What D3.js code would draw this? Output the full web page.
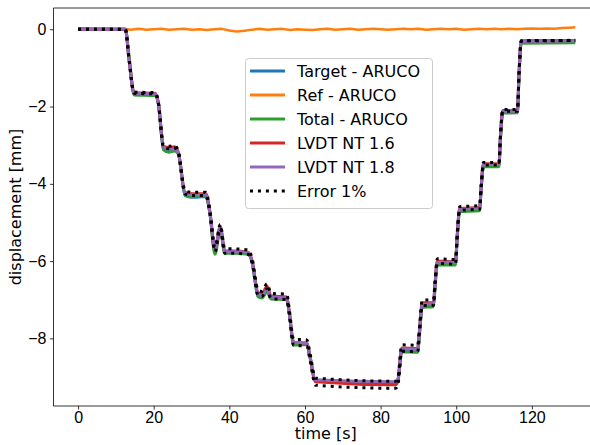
<!DOCTYPE html>
<html>
<head>
<meta charset="utf-8">
<script src="https://cdn.jsdelivr.net/npm/d3@7"></script>
<style>
  body { margin: 0; background: #fff; }
  svg { font-family: 'DejaVu Sans', sans-serif; }
  .tick text { font-size: 16px; fill: #000; }
</style>
</head>
<body>
<svg id="chart" width="590" height="445"></svg>
<script>
// shared time base for the stepped signals [s]
const time = [0, 12.5, 13.5, 14.8, 20.5, 21.2, 22.6, 24, 25.5, 26.5,
  28.3, 30, 33.8, 34.8, 36.2, 37.6, 38.8, 41, 45, 46,
  47.6, 48.6, 50, 51, 55.2, 55.8, 57, 60.5, 61.2, 62.8,
  84, 84.6, 85.6, 89.8, 90.3, 91, 94, 94.4, 95, 99.8,
  100.3, 100.9, 106.2, 106.6, 107.2, 111.3, 111.7, 112.3, 116.2, 116.6,
  117.2, 131.5]

const target = [0, 0, -0.8, -1.66, -1.7, -1.92, -3.1, -3.15, -3.12, -3.22,
  -4.3, -4.35, -4.33, -4.72, -5.72, -5.15, -5.78, -5.77, -5.8, -6.02,
  -6.9, -6.95, -6.75, -6.96, -6.97, -7.32, -8.12, -8.14, -8.42, -9.1,
  -9.16, -9.08, -8.3, -8.32, -7.83, -7.14, -7.12, -6.62, -6.05, -6.05,
  -5.32, -4.68, -4.65, -4.12, -3.52, -3.52, -2.82, -2.14, -2.14, -1.22,
  -0.33, -0.31]

const total = [0.01, -0.01, -0.7, -1.7, -1.72, -1.9, -3.12, -3.18, -3.15, -3.22,
  -4.3, -4.33, -4.32, -4.72, -5.82, -5.2, -5.8, -5.8, -5.82, -6.02,
  -6.92, -6.95, -6.8, -6.98, -7.0, -7.3, -8.17, -8.16, -8.42, -9.1,
  -9.14, -9.08, -8.35, -8.36, -7.9, -7.2, -7.18, -6.7, -6.1, -6.1,
  -5.35, -4.72, -4.7, -4.15, -3.56, -3.56, -2.86, -2.17, -2.16, -1.25,
  -0.36, -0.35]

const lvdt16 = [0, 0, -0.8, -1.64, -1.66, -1.88, -3.03, -3.06, -3.04, -3.18,
  -4.22, -4.26, -4.26, -4.68, -5.7, -5.1, -5.74, -5.74, -5.77, -5.98,
  -6.82, -6.85, -6.65, -6.9, -6.93, -7.28, -8.1, -8.12, -8.4, -9.12,
  -9.2, -9.1, -8.25, -8.26, -7.78, -7.08, -7.07, -6.58, -6.0, -6.02,
  -5.28, -4.64, -4.61, -4.08, -3.48, -3.48, -2.78, -2.1, -2.1, -1.18,
  -0.3, -0.29]

const lvdt18 = [0, 0, -0.8, -1.65, -1.68, -1.9, -3.05, -3.1, -3.1, -3.2,
  -4.25, -4.28, -4.28, -4.7, -5.7, -5.12, -5.75, -5.75, -5.78, -6.0,
  -6.85, -6.9, -6.72, -6.93, -6.95, -7.3, -8.1, -8.12, -8.4, -9.07,
  -9.12, -9.05, -8.27, -8.28, -7.8, -7.12, -7.1, -6.6, -6.03, -6.03,
  -5.3, -4.66, -4.63, -4.1, -3.5, -3.5, -2.8, -2.12, -2.12, -1.2,
  -0.32, -0.3]

// reference marker, sampled on its own time base
const refTime = [0, 2, 4, 6, 8, 10, 12, 14, 16, 18, 20, 22, 24, 26, 28, 30, 32, 34, 36, 38,
  40, 42, 44, 46, 48, 50, 52, 54, 56, 58, 60, 62, 64, 66, 68, 70, 72, 74, 76, 78,
  80, 82, 84, 86, 88, 90, 92, 94, 96, 98, 100, 102, 104, 106, 108, 110, 112, 114, 116, 118,
  120, 122, 124, 126, 128, 130, 131.5]
const ref = [0.01, 0.02, 0.0, 0.01, 0.02, 0.0, 0.01, -0.01, 0.01, -0.01,
  0.0, 0.01, -0.01, 0.0, 0.01, -0.01, 0.0, -0.02, 0.0, 0.01,
  -0.03, -0.06, -0.04, -0.01, 0.01, -0.01, 0.0, 0.01, -0.02, 0.0,
  -0.01, -0.02, 0.0, 0.01, -0.01, 0.0, 0.01, -0.01, 0.0, 0.01,
  0.0, -0.01, 0.0, 0.01, 0.0, 0.01, -0.01, 0.0, 0.01, 0.0,
  0.01, -0.01, 0.0, 0.01, 0.0, 0.01, 0.0, 0.01, 0.0, 0.01,
  0.02, 0.01, 0.02, 0.01, 0.03, 0.04, 0.05]

const errorPct = 0.01   // "Error 1%" band drawn around LVDT NT 1.6

const xTicks = [0, 20, 40, 60, 80, 100, 120]
const yTicks = [0, -2, -4, -6, -8]

const labels = ['Target - ARUCO', 'Ref - ARUCO', 'Total - ARUCO', 'LVDT NT 1.6', 'LVDT NT 1.8', 'Error 1%']
const colors = ['#1f77b4', '#ff7f0e', '#2ca02c', '#d62728', '#9467bd', '#000']

const svg = d3.select('#chart')

const plot = { left: 53.5, right: 598, top: 8, bottom: 406 }

const x = d3.scaleLinear()
    .domain([-6.5, 137.5])
    .range([plot.left, plot.right])

const y = d3.scaleLinear()
    .domain([-9.75, 0.55])
    .range([plot.bottom, plot.top])

svg.append('defs').append('clipPath')
    .attr('id', 'clip')
  .append('rect')
    .attr('x', plot.left)
    .attr('y', plot.top)
    .attr('width', plot.right - plot.left)
    .attr('height', plot.bottom - plot.top)

let zip = (ts, vs) => ts.map((t, i) => [t, vs[i]])

let series = [
  { pts: zip(time, target), color: colors[0] },
  { pts: zip(refTime, ref), color: colors[1], linear: true, width: 2.5 },
  { pts: zip(time, total), color: colors[2] },
  { pts: zip(time, lvdt16), color: colors[3] },
  { pts: zip(time, lvdt18), color: colors[4] }
]

let smooth = d3.line()
    .x(d => x(d[0]))
    .y(d => y(d[1]))
    .curve(d3.curveMonotoneX)

let straight = d3.line()
    .x(d => x(d[0]))
    .y(d => y(d[1]))

let lines = svg.append('g')
    .attr('clip-path', 'url(#clip)')

series.forEach(s => {
  lines.append('path')
      .datum(s.pts)
      .attr('d', s.linear ? straight : smooth)
      .style('fill', 'none')
      .style('stroke', s.color)
      .style('stroke-width', s.width || 3)
      .style('stroke-linejoin', 'round')
})

// upper and lower 1% error lines, both dotted
;[1 - errorPct, 1 + errorPct].forEach(f => {
  lines.append('path')
      .datum(zip(time, lvdt16.map(v => v * f)))
      .attr('d', smooth)
      .style('fill', 'none')
      .style('stroke', '#000')
      .style('stroke-width', 3)
      .style('stroke-dasharray', '3,4.95')
})

// axes
let xAxis = svg.append('g')
    .attr('transform', `translate(0,${ plot.bottom })`)
    .call(d3.axisBottom(x).tickValues(xTicks).tickSize(3.5).tickPadding(2.5).tickFormat(d3.format('d')))

let yAxis = svg.append('g')
    .attr('transform', `translate(${ plot.left },0)`)
    .call(d3.axisLeft(y).tickValues(yTicks).tickSize(3.5).tickPadding(3.5)
      .tickFormat(d => d < 0 ? '\u2212' + Math.abs(d) : d))

;[xAxis, yAxis].forEach(a => {
  a.select('.domain').remove()
  a.selectAll('.tick line').style('stroke', '#000').style('stroke-width', 0.8)
})

// spines: left, bottom and top (right one falls outside the picture)
svg.append('path')
    .attr('d', `M${ plot.right },${ plot.top }H${ plot.left }V${ plot.bottom }H${ plot.right }`)
    .style('fill', 'none')
    .style('stroke', '#000')
    .style('stroke-width', 0.8)

svg.append('text')
    .attr('x', (plot.left + plot.right) / 2)
    .attr('y', 439)
    .attr('text-anchor', 'middle')
    .style('font-size', '16px')
    .text('time [s]')

svg.append('text')
    .attr('transform', `translate(21,${ (plot.top + plot.bottom) / 2 }) rotate(-90)`)
    .attr('text-anchor', 'middle')
    .style('font-size', '16px')
    .text('displacement [mm]')

// legend
let legend = svg.append('g')
    .attr('transform', 'translate(245,58)')

legend.append('rect')
    .attr('x', 0.5)
    .attr('y', 0.5)
    .attr('width', 187)
    .attr('height', 150)
    .attr('rx', 3)
    .style('fill', '#fff')
    .style('fill-opacity', 0.8)
    .style('stroke', '#ccc')
    .style('stroke-width', 1)

let entry = legend.selectAll('g.entry')
  .data(labels)
  .enter().append('g')
    .attr('class', 'entry')
    .attr('transform', (d, i) => `translate(0,${ 13 + 24 * i })`)

entry.append('line')
    .attr('x1', 5)
    .attr('x2', 40)
    .style('stroke', (d, i) => colors[i])
    .style('stroke-width', 3)
    .style('stroke-dasharray', (d, i) => i === 5 ? '3,4.95' : null)

entry.append('text')
    .attr('x', 52)
    .attr('dy', '0.35em')
    .style('font-size', '16px')
    .text(d => d)
</script>
</body>
</html>
